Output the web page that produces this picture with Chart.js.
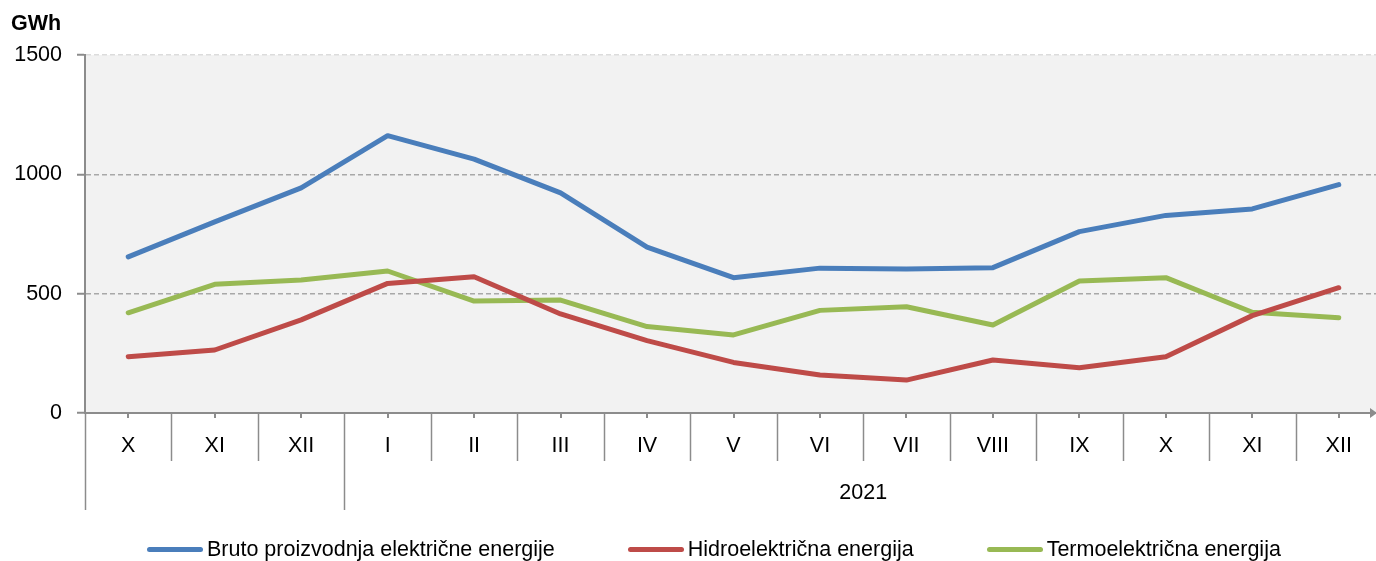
<html lang="hr">
 <head>
  <meta charset="UTF-8">
  <title>Proizvodnja električne energije</title>
  <style>
      body {
        margin: 0;
        padding: 0;
        background-color: #fff;
        overflow: hidden;
        font-family: 'Liberation Sans', Arial, sans-serif;
      }

      .wrap {
        position: relative;
        width: 1376px;
        height: 561px;
        overflow: hidden;
      }

      .legend {
        position: absolute;
        left: 147px;
        top: 536px;
        display: flex;
        gap: 73px;
        font-size: 21.5px;
        line-height: 26px;
        white-space: nowrap;
      }

      .legend-item {
        display: flex;
        align-items: center;
      }

      .legend-line {
        display: inline-block;
        width: 56px;
        height: 5px;
        border-radius: 3px;
        margin-right: 4px;
      }
    </style>
 </head>
 <body>
  <div class="wrap">
   <canvas id="energyChart" width="1384" height="561"></canvas>
   <div class="legend" id="legend"></div>
  </div>
  <script src="https://cdn.jsdelivr.net/npm/chart.js"></script>
  <script>
      // mjeseci (X.2020 - XII.2021)
      const months = ['X', 'XI', 'XII', 'I', 'II', 'III', 'IV', 'V', 'VI', 'VII', 'VIII', 'IX', 'X', 'XI', 'XII'];
      const groupNames = ['', '2021'];
      const groupStarts = [0, 3];

      const bruto = [654, 801, 943, 1162, 1064, 922, 695, 567, 607, 603, 609, 760, 828, 855, 957];
      const hidro = [236, 264, 390, 543, 571, 415, 303, 212, 159, 138, 222, 190, 236, 408, 525];
      const termo = [420, 539, 557, 595, 469, 473, 362, 327, 430, 445, 369, 553, 567, 422, 399];

      const yTicks = [0, 500, 1000, 1500];

      const axisGray = '#8c8c8c';
      const fontFamily = "'Liberation Sans', Arial, sans-serif";

      Chart.defaults.font.family = fontFamily;
      Chart.defaults.font.size = 21.5;
      Chart.defaults.color = '#000';

      // pozadina grafa i dodatne oznake na x osi
      const decorations = {
        id: 'decorations',
        beforeDraw(chart) {
          const a = chart.chartArea;
          const ctx = chart.ctx;
          ctx.save();
          ctx.fillStyle = '#f2f2f2';
          ctx.fillRect(a.left, a.top, a.right - a.left, a.bottom - a.top);
          ctx.restore();
        },
        afterDraw(chart) {
          const ctx = chart.ctx;
          const x = chart.scales.x;
          const a = chart.chartArea;
          const w = x.getPixelForValue(1) - x.getPixelForValue(0);
          ctx.save();
          ctx.strokeStyle = axisGray;
          ctx.lineWidth = 1.5;
          // separatori mjeseci
          for (let i = 0; i <= months.length; i++) {
            const px = Math.round(x.getPixelForValue(0) - w / 2 + i * w) + 0.5;
            const long = groupStarts.includes(i);
            ctx.beginPath();
            ctx.moveTo(px, a.bottom);
            ctx.lineTo(px, long ? 510 : 461);
            ctx.stroke();
          }
          // male crtice na sredini
          ctx.lineWidth = 2;
          for (let i = 0; i < months.length; i++) {
            const px = Math.round(x.getPixelForValue(i));
            ctx.beginPath();
            ctx.moveTo(px, a.bottom);
            ctx.lineTo(px, a.bottom + 5);
            ctx.stroke();
          }
          // strelica na kraju osi
          ctx.fillStyle = axisGray;
          ctx.beginPath();
          ctx.moveTo(1370, a.bottom - 5);
          ctx.lineTo(1377, a.bottom);
          ctx.lineTo(1370, a.bottom + 5);
          ctx.closePath();
          ctx.fill();

          // godine
          ctx.fillStyle = '#000';
          ctx.font = '21.5px ' + fontFamily;
          ctx.textAlign = 'center';
          ctx.textBaseline = 'middle';
          for (let g = 0; g < groupNames.length; g++) {
            const from = groupStarts[g];
            const to = g + 1 < groupStarts.length ? groupStarts[g + 1] - 1 : months.length - 1;
            const cx = (x.getPixelForValue(from) + x.getPixelForValue(to)) / 2;
            ctx.fillText(groupNames[g], cx, 493);
          }

          // jedinica
          ctx.font = 'bold 21.5px ' + fontFamily;
          ctx.textAlign = 'left';
          ctx.fillText('GWh', 11, 24);
          ctx.restore();
        }
      };

      const ctx = document.getElementById('energyChart').getContext('2d');
      const energyChart = new Chart(ctx, {
        type: 'line',
        data: {
          labels: months,
          datasets: [{
            label: 'Bruto proizvodnja električne energije',
            data: bruto,
            borderColor: '#4a7ebb'
          }, {
            label: 'Hidroelektrična energija',
            data: hidro,
            borderColor: '#be4b48'
          }, {
            label: 'Termoelektrična energija',
            data: termo,
            borderColor: '#98b954'
          }]
        },
        options: {
          responsive: false,
          animation: false,
          layout: {
            padding: { top: 55, left: 0, right: 2, bottom: 0 }
          },
          elements: {
            line: { borderWidth: 5, tension: 0, borderCapStyle: 'round', borderJoinStyle: 'round' },
            point: { radius: 0, hoverRadius: 0 }
          },
          scales: {
            x: {
              offset: true,
              grid: { display: false, drawTicks: false },
              border: { display: true, color: axisGray, width: 2 },
              ticks: { padding: 20, maxRotation: 0, autoSkip: false },
              afterFit: (scale) => { scale.height = 148; }
            },
            y: {
              min: 0,
              max: 1500,
              afterBuildTicks: (scale) => { scale.ticks = yTicks.map(v => ({ value: v })); },
              ticks: { padding: 15, callback: (v) => String(v) },
              grid: {
                color: (c) => c.tick && c.tick.value === 0 ? 'rgba(0,0,0,0)' : (c.tick && c.tick.value === 1500 ? '#dcdcdc' : '#a8a8a8'),
                lineWidth: 1.5,
                tickColor: axisGray,
                tickLength: 8,
                tickWidth: 2
              },
              border: { display: true, color: axisGray, width: 2, dash: [5, 3] },
              afterFit: (scale) => { scale.width = 85; }
            }
          },
          plugins: {
            legend: { display: false },
            tooltip: { enabled: false }
          }
        },
        plugins: [decorations]
      });

      // legenda ispod grafa
      const legend = document.getElementById('legend');
      energyChart.data.datasets.forEach(ds => {
        const item = document.createElement('div');
        item.className = 'legend-item';
        const line = document.createElement('span');
        line.className = 'legend-line';
        line.style.backgroundColor = ds.borderColor;
        const text = document.createElement('span');
        text.textContent = ds.label;
        item.appendChild(line);
        item.appendChild(text);
        legend.appendChild(item);
      });
    </script>
 </body>
</html>
